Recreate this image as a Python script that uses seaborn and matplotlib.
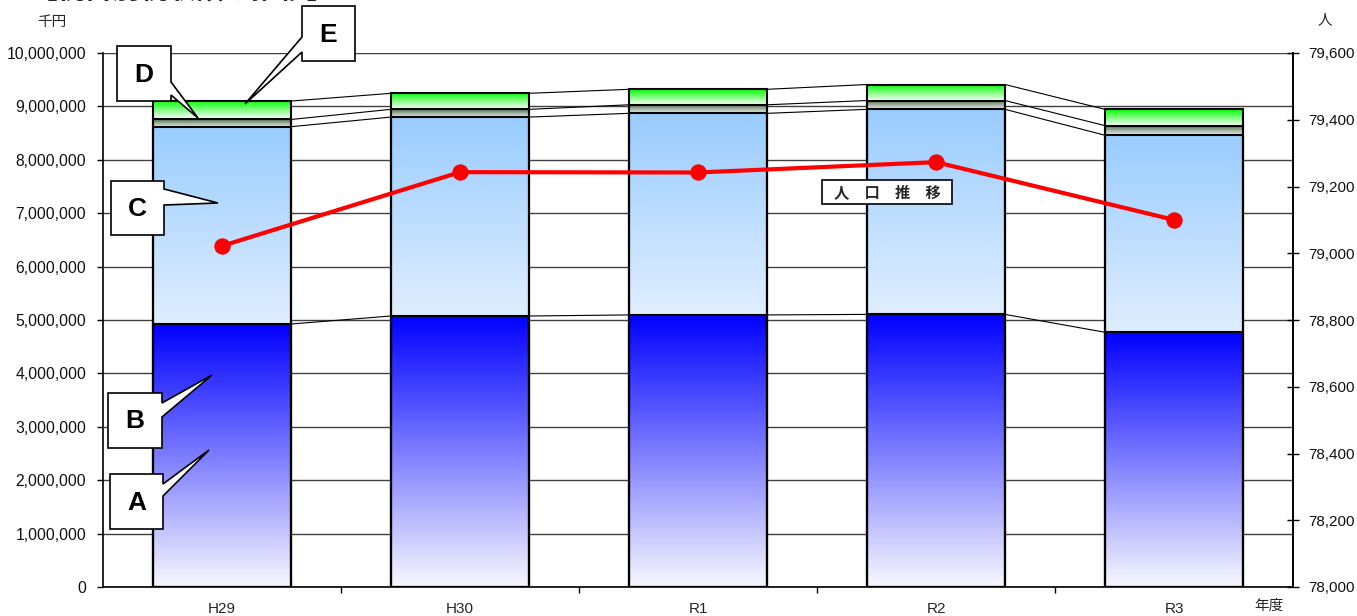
import numpy as np
import pandas as pd
import matplotlib
matplotlib.use("Agg")
import matplotlib.pyplot as plt
from matplotlib.patches import Polygon, Rectangle
from matplotlib.colors import to_rgb
from matplotlib.ticker import FuncFormatter, FixedLocator
import seaborn as sns

# ---- data (千円 / 人) ----
years = ["H29", "H30", "R1", "R2", "R3"]
tax_ab = [4925000, 5075000, 5095000, 5105000, 4770000]   # A + B
tax_c = [3695000, 3725000, 3775000, 3840000, 3690000]
tax_d = [135000, 145000, 160000, 165000, 180000]
tax_e = [345000, 300000, 290000, 300000, 305000]
population = [79022, 79243, 79242, 79273, 79100]

W, H = 1357, 616
sns.set_theme(style="white")
plt.rcParams["font.family"] = ["Liberation Sans", "Noto Sans CJK JP", "DejaVu Sans"]

fig = plt.figure(figsize=(W / 100, H / 100), dpi=100)
ax = fig.add_axes([103 / W, 1 - 587 / H, (1293 - 103) / W, (587 - 53) / H])

layers = [tax_ab, tax_c, tax_d, tax_e]
grads = [("#f8f8ff", "#0000ff"), ("#e0eeff", "#99ccff"),
         ("#eef0ee", "#4a6e4a"), ("#ffffff", "#00ff00")]
cum = np.cumsum(np.array(layers, dtype=float), axis=0)
df = pd.DataFrame({"year": years})

# stacked bars: draw cumulative totals from the tallest down
bar_w = 0.58
n_prev = 0
patches_by_layer = {}
for k in range(len(layers) - 1, -1, -1):
    df["v"] = cum[k]
    sns.barplot(data=df, x="year", y="v", width=bar_w, facecolor="none",
                edgecolor="black", linewidth=1.5, ax=ax, zorder=3)
    patches_by_layer[k] = ax.patches[n_prev:]
    n_prev = len(ax.patches)

# gradient fills per segment
for k in range(len(layers)):
    c0, c1 = np.array(to_rgb(grads[k][0])), np.array(to_rgb(grads[k][1]))
    t = np.linspace(0, 1, 256)[:, None, None]
    img = c0 + (c1 - c0) * t
    for i, p in enumerate(patches_by_layer[k]):
        y0 = cum[k - 1][i] if k > 0 else 0.0
        y1 = p.get_height()
        ax.imshow(img, extent=[p.get_x(), p.get_x() + p.get_width(), y0, y1],
                  origin="lower", aspect="auto", zorder=2, interpolation="bilinear")

# connector lines between neighbouring bars
for k in range(len(layers)):
    ps = patches_by_layer[k]
    for i in range(len(ps) - 1):
        ax.plot([ps[i].get_x() + ps[i].get_width(), ps[i + 1].get_x()],
                [ps[i].get_height(), ps[i + 1].get_height()],
                color="black", lw=0.8, zorder=2.5)

ax.set_xlim(-0.5, len(years) - 0.5)
ax.set_ylim(0, 10_000_000)
ax.set_yticks(np.arange(0, 10_000_001, 1_000_000))
ax.yaxis.set_major_formatter(FuncFormatter(lambda v, _: f"{int(v):,}"))
ax.grid(axis="y", color="#404040", lw=1, zorder=0)
ax.set_axisbelow(True)
ax.set_xlabel("")
ax.set_ylabel("")
ax.spines["top"].set_visible(False)
for s in ["left", "bottom", "right"]:
    ax.spines[s].set_color("black")
    ax.spines[s].set_linewidth(1.2)
ax.tick_params(axis="y", direction="out", length=4, width=1, color="black",
               labelsize=11.3, pad=8, left=True, labelcolor="#111111")
ax.tick_params(axis="x", which="major", length=0, labelsize=11, pad=11)
ax.xaxis.set_minor_locator(FixedLocator(np.arange(0.5, len(years) - 1, 1.0)))
ax.tick_params(axis="x", which="minor", direction="out", length=4, width=1,
               color="black", bottom=True)

# population line on the secondary axis
ax2 = ax.twinx()
sns.lineplot(x=np.arange(len(years)), y=population, ax=ax2, color="#ff0000",
             lw=3, marker="o", markersize=11, markeredgecolor="#ff0000",
             zorder=5)
ax2.set_ylim(78000, 79600)
ax2.set_yticks(np.arange(78000, 79601, 200))
ax2.yaxis.set_major_formatter(FuncFormatter(lambda v, _: f"{int(v):,}"))
ax2.tick_params(axis="y", direction="inout", length=8, width=1, color="black",
                labelsize=11, pad=7, right=True, labelcolor="#111111")
ax2.grid(False)
for s in ax2.spines.values():
    s.set_visible(False)
ax2.spines["right"].set_visible(True)
ax2.spines["right"].set_color("black")
ax2.spines["right"].set_linewidth(1.2)
ax2.set_xlim(-0.5, len(years) - 0.5)


def fp(x, y):
    return (x / W, 1 - y / H)


# callout boxes
def callout(box, base, tip, label, side):
    x0, y0, x1, y1 = box
    if side == "right":
        pts = [(x0, y0), (x1, y0), (x1, base[0]), tip, (x1, base[1]), (x1, y1), (x0, y1)]
    else:
        pts = [(x0, y0), (x1, y0), (x1, y1), (x0, y1), (x0, base[1]), tip, (x0, base[0])]
    fig.add_artist(Polygon([fp(*p) for p in pts], closed=True, transform=fig.transFigure,
                           facecolor="white", edgecolor="black", lw=1.2, zorder=6))
    fig.text(*fp((x0 + x1) / 2, (y0 + y1) / 2 + 1), label, ha="center", va="center",
             fontsize=19, fontweight="bold", color="black", zorder=7)


callout((302, 6, 355, 61), (37, 52), (245, 104), "E", "left")
callout((117, 46, 171, 101), (82, 95), (198, 118), "D", "right")
callout((111, 181, 164, 235), (189, 205), (218, 203), "C", "right")
callout((108, 393, 162, 448), (403, 417), (212, 375), "B", "right")
callout((110, 474, 163, 529), (484, 496), (209, 450), "A", "right")

# population label
fig.add_artist(Rectangle(fp(822, 204), 130 / W, 24 / H, transform=fig.transFigure,
                         facecolor="white", edgecolor="black", lw=1.2, zorder=6))
fig.text(*fp(887, 192), "人　口　推　移", ha="center", va="center", fontsize=11,
         fontweight="bold", family=["Noto Sans CJK JP"], zorder=7)

# units and title
fig.text(*fp(52, 22), "千円", ha="center", va="center", fontsize=10.5)
fig.text(*fp(1325, 20), "人", ha="center", va="center", fontsize=10.5)
fig.text(*fp(1269, 606), "年度", ha="center", va="center", fontsize=10.5)
fig.text(*fp(30, -10), "【税目別税収額の推移】", ha="left", va="center", fontsize=20,
         fontweight="bold", family=["Noto Sans CJK JP"])

fig.savefig("out.png", dpi=100)
